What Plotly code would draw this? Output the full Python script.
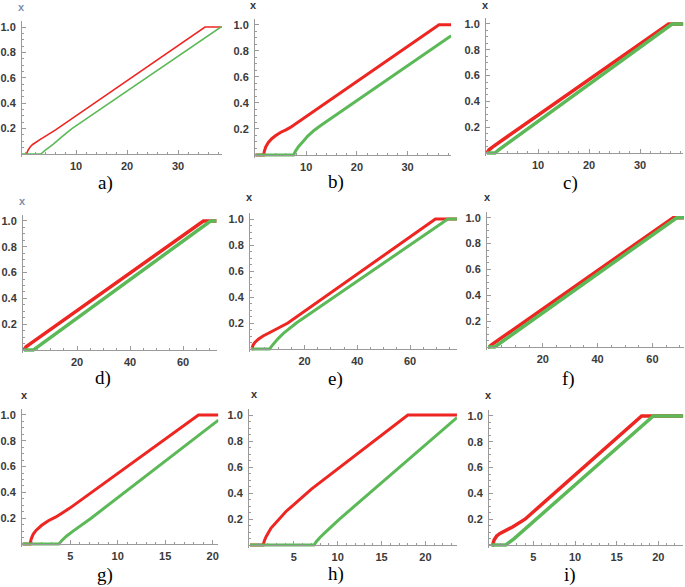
import plotly.graph_objects as go

# ---------------- data ----------------
a_red_x = [0, 0.3, 0.6, 1.0, 1.5, 2.0, 3.0, 4.2, 6.0, 35.3, 38.6]
a_red_y = [0, 0, 0.03, 0.055, 0.075, 0.09, 0.115, 0.145, 0.19, 1.0, 1.0]
a_green_x = [-0.6, 3.1, 4.0, 5.5, 7.5, 9.2, 38.4, 38.6]
a_green_y = [0, 0, 0.03, 0.075, 0.145, 0.2, 1.0, 1.0]

b_red_x = [0, 1.6, 1.75, 2.0, 2.5, 3.2, 4.0, 5.0, 6.0, 6.8, 36.2, 38.6]
b_red_y = [0, 0, 0.03, 0.06, 0.095, 0.125, 0.15, 0.175, 0.193, 0.21, 1.0, 1.0]
b_green_x = [0, 7.5, 7.9, 8.5, 9.3, 10.3, 11.6, 13.0, 38.6]
b_green_y = [0, 0, 0.03, 0.065, 0.1, 0.145, 0.19, 0.23, 0.915]

c_red_x = [0, 0.4, 1.2, 3.0, 35.6, 38.5]
c_red_y = [0, 0.025, 0.05, 0.1, 1.0, 1.0]
c_green_x = [0, 1.6, 2.3, 36.3, 38.5]
c_green_y = [0, 0, 0.025, 1.0, 1.0]

d_red_x = [0, 0.8, 2.3, 67.7, 72.7]
d_red_y = [0, 0.025, 0.047, 1.0, 1.0]
d_green_x = [0, 3.5, 4.5, 70.4, 72.7]
d_green_y = [0, 0, 0.015, 1.0, 1.0]

e_red_x = [0, 0.1, 0.5, 1.2, 2.5, 4.3, 6.5, 8.7, 11.2, 13.7, 69.6, 77.8]
e_red_y = [0, 0, 0.03, 0.05, 0.075, 0.1, 0.123, 0.146, 0.172, 0.2, 1.0, 1.0]
e_green_x = [0, 6.8, 7.5, 8.5, 10.0, 12.0, 14.5, 16.9, 74.3, 77.8]
e_green_y = [0, 0, 0.02, 0.045, 0.08, 0.12, 0.162, 0.2, 1.0, 1.0]

f_red_x = [0, 0.3, 1.5, 67.6, 71.5]
f_red_y = [0, 0, 0.02, 1.0, 1.0]
f_green_x = [0, 2.4, 3.2, 68.9, 71.5]
f_green_y = [0, 0, 0.012, 1.0, 1.0]

g_red_x = [0, 0.77, 0.9, 1.1, 1.4, 2.0, 2.7, 3.5, 4.2, 5.0, 18.5, 20.6]
g_red_y = [0, 0, 0.04, 0.075, 0.105, 0.145, 0.18, 0.21, 0.243, 0.28, 1.0, 1.0]
g_green_x = [0, 3.8, 4.1, 4.6, 5.3, 6.2, 7.2, 20.6]
g_green_y = [0, 0, 0.025, 0.06, 0.1, 0.15, 0.2, 0.96]

h_red_x = [0, 1.5, 1.65, 1.85, 2.4, 3.2, 4.1, 5.0, 6.0, 7.0, 18.0, 23.6]
h_red_y = [0, 0, 0.035, 0.066, 0.13, 0.194, 0.258, 0.31, 0.372, 0.43, 1.0, 1.0]
h_green_x = [0, 7.3, 7.55, 8.0, 8.7, 9.5, 10.3, 23.6]
h_green_y = [0, 0, 0.025, 0.06, 0.105, 0.155, 0.205, 0.98]

i_red_x = [0, 0.1, 0.3, 0.6, 1.0, 1.6, 2.5, 4.0, 6.0, 18.0, 23.0]
i_red_y = [0, 0, 0.04, 0.07, 0.09, 0.11, 0.14, 0.2, 0.315, 1.0, 1.0]
i_green_x = [0, 1.7, 2.1, 2.7, 19.4, 23.0]
i_green_y = [0, 0, 0.02, 0.05, 1.0, 1.0]

panel_labels = ["a)", "b)", "c)", "d)", "e)", "f)", "g)", "h)", "i)"]
x_ticks_small = [10, 20, 30]
x_ticks_mid = [20, 40, 60]
x_ticks_short = [5, 10, 15, 20]
y_ticks = [0.2, 0.4, 0.6, 0.8, 1.0]
y_ticktext = ["0.2", "0.4", "0.6", "0.8", "1.0"]
axis_label = "x"

series = [
    (a_red_x, a_red_y, a_green_x, a_green_y),
    (b_red_x, b_red_y, b_green_x, b_green_y),
    (c_red_x, c_red_y, c_green_x, c_green_y),
    (d_red_x, d_red_y, d_green_x, d_green_y),
    (e_red_x, e_red_y, e_green_x, e_green_y),
    (f_red_x, f_red_y, f_green_x, f_green_y),
    (g_red_x, g_red_y, g_green_x, g_green_y),
    (h_red_x, h_red_y, h_green_x, h_green_y),
    (i_red_x, i_red_y, i_green_x, i_green_y),
]

# ---------------- layout (pixel geometry of each panel) ----------------
W, H = 685, 587
# axis-line px, x=0 px, px per unit, xmax, y=0 px, y=1 px
geom = [
    (22, 25, 5.1, 38.6, 154, 27),
    (255, 255.5, 5.07, 38.6, 155, 24.7),
    (486, 487, 5.1, 38.5, 153, 24),
    (23, 24, 2.65, 72.7, 350, 221),
    (250, 251.7, 2.64, 77.8, 349, 219),
    (487, 488, 2.74, 71.5, 347, 217.7),
    (22, 22.7, 9.5, 20.6, 544, 415),
    (249, 250, 8.77, 23.6, 545, 415),
    (489, 491.7, 8.33, 23.0, 545, 416),
]
xticks = [x_ticks_small] * 3 + [x_ticks_mid] * 3 + [x_ticks_short] * 3
xminor = [2] * 3 + [5] * 3 + [1] * 3
lw = [1.6, 3, 3.5, 3.5, 3, 3.5, 3, 3, 3.5]
xlab_pos = [(21, 7), (253, 5), (486, 5), (22, 201), (249, 197), (487, 197),
            (25, 395), (254, 394), (488, 395)]
xlab_col = ["#7f8fa6", "#333", "#333", "#7f8fa6", "#333", "#333", "#333", "#333", "#333"]
plab_pos = [(105, 183), (336, 182), (570, 183), (103, 378), (335, 379), (568, 379),
            (105, 575), (336, 574), (570, 575)]

RED = "#ee2622"
GREEN = "#5cb957"
AXC = "#9a9a9a"
tickfont = dict(family="Liberation Sans", size=11, color="#3a3a3a", weight="bold")

fig = go.Figure()
annotations = []
YMIN, YMAX = -0.025, 1.045

for k in range(9):
    rx, ry, gx, gy = series[k]
    L, x0, s, xmax, y0, y1 = geom[k]
    v = y0 - y1
    xmin = (L - x0) / s
    R = x0 + xmax * s
    top = y0 - YMAX * v
    bot = y0 - YMIN * v
    n = "" if k == 0 else str(k + 1)
    xa, ya = "x" + n, "y" + n
    fig.add_trace(go.Scatter(x=rx, y=ry, mode="lines", line=dict(color=RED, width=lw[k]),
                             xaxis=xa, yaxis=ya, showlegend=False, hoverinfo="skip"))
    fig.add_trace(go.Scatter(x=gx, y=gy, mode="lines", line=dict(color=GREEN, width=lw[k]),
                             xaxis=xa, yaxis=ya, showlegend=False, hoverinfo="skip"))
    fig.layout["xaxis" + n] = dict(
        domain=[L / W, R / W], range=[xmin, xmax], anchor="free", position=1 - y0 / H,
        showline=True, linecolor=AXC, linewidth=1, showgrid=False, zeroline=False,
        tickmode="array", tickvals=xticks[k], ticktext=[str(t) for t in xticks[k]],
        ticks="inside", ticklen=4, tickcolor=AXC, tickwidth=1, tickfont=tickfont,
        ticklabelstandoff=2,
        minor=dict(dtick=xminor[k], tick0=0, ticks="inside", ticklen=2, tickcolor=AXC,
                   showgrid=False),
        fixedrange=True,
    )
    fig.layout["yaxis" + n] = dict(
        domain=[1 - bot / H, 1 - top / H], range=[YMIN, YMAX], anchor=xa,
        showline=True, linecolor=AXC, linewidth=1, showgrid=False, zeroline=False,
        tickmode="array", tickvals=y_ticks, ticktext=y_ticktext,
        ticks="inside", ticklen=4, tickcolor=AXC, tickwidth=1, tickfont=tickfont,
        ticklabelstandoff=3,
        minor=dict(dtick=0.05, tick0=0, ticks="inside", ticklen=2, tickcolor=AXC,
                   showgrid=False),
        fixedrange=True,
    )
    px_, py_ = xlab_pos[k]
    annotations.append(dict(text=axis_label, x=px_ / W, y=1 - py_ / H, xref="paper", yref="paper",
                            showarrow=False, xanchor="center", yanchor="middle",
                            font=dict(family="Liberation Sans", size=11, color=xlab_col[k],
                                      weight="bold")))
    qx, qy = plab_pos[k]
    annotations.append(dict(text=panel_labels[k], x=qx / W, y=1 - qy / H, xref="paper", yref="paper",
                            showarrow=False, xanchor="center", yanchor="middle",
                            font=dict(family="Liberation Serif", size=19, color="#000")))

fig.update_layout(width=W, height=H, margin=dict(l=0, r=0, t=0, b=0),
                  paper_bgcolor="white", plot_bgcolor="white",
                  annotations=annotations, showlegend=False)
fig.write_html("out.html", config={"displayModeBar": False},
               post_script="document.body.style.margin='0';document.body.style.overflow='hidden';")
